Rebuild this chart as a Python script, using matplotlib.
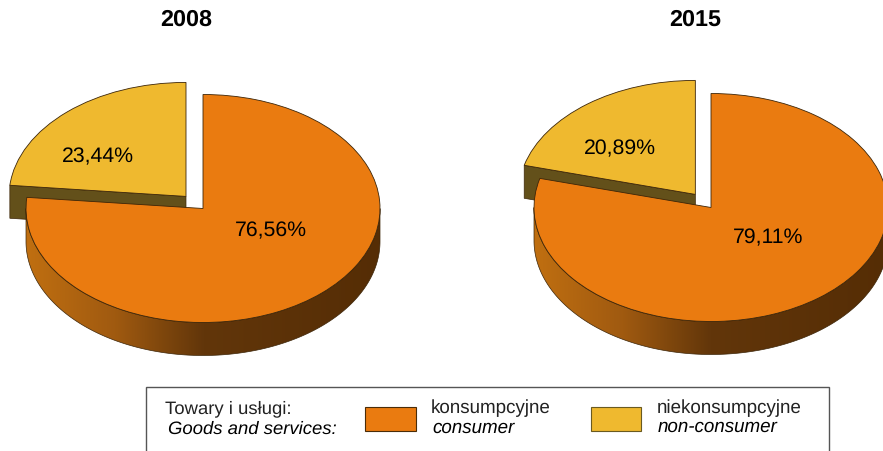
import numpy as np
import matplotlib
matplotlib.use('Agg')
import matplotlib.pyplot as plt
from matplotlib.colors import LinearSegmentedColormap
from matplotlib.patches import Polygon, Rectangle

plt.rcParams['font.family'] = ['Liberation Sans', 'DejaVu Sans']
plt.rcParams['text.hinting'] = 'no_hinting'

# data
years = ['2008', '2015']
consumer = [76.56, 79.11]
non_consumer = [23.44, 20.89]
value_labels = [['76,56%', '23,44%'], ['79,11%', '20,89%']]
legend_title = ['Towary i usługi:', 'Goods and services:']
legend_pl = ['konsumpcyjne', 'niekonsumpcyjne']
legend_en = ['consumer', 'non-consumer']

ORANGE = '#ea7b10'
YELLOW = '#efb92f'
CUT = '#63501a'
EDGE = '#3c2508'
W, H = 883, 452
RX, RY, DEPTH = 177, 114, 33     # pixels

side_cmap = LinearSegmentedColormap.from_list('side', [
    (0.0, '#c06f10'), (0.25, '#a05a10'), (0.5, '#62360a'), (1.0, '#552d05')])


def draw_pie(box, center, values, explode, labels, label_pos):
    # box = left, top, right, bottom of the axes in pixels
    left, top, right, bottom = box
    ax = fig.add_axes([left / W, 1 - bottom / H, (right - left) / W, (bottom - top) / H])
    wedges, _ = ax.pie(values, colors=[ORANGE, YELLOW], startangle=90, counterclock=False,
                       explode=[0, explode], radius=1,
                       wedgeprops={'edgecolor': EDGE, 'linewidth': 0.6})
    ax.set_aspect('auto')
    d = DEPTH / RY

    # cut face of the pulled out slice
    big, small = wedges
    cx, cy = small.center
    a = np.radians(big.theta1)
    rim = (cx + np.cos(a), cy + np.sin(a))
    ax.add_patch(Polygon([(cx, cy), rim, (rim[0], rim[1] - d), (cx, cy - d)],
                         facecolor=CUT, edgecolor=EDGE, linewidth=0.5, zorder=0.5))
    small.set_zorder(1)

    # wall of the big slice, shaded from left to right
    t = np.radians(np.linspace(-180, 0, 200))
    xs, ys = np.cos(t), np.sin(t)
    wall = Polygon(np.r_[np.c_[xs, ys], np.c_[xs[::-1], ys[::-1] - d]],
                   facecolor='none', edgecolor=EDGE, linewidth=0.5, zorder=2.5)
    ax.add_patch(wall)
    img = ax.imshow(np.linspace(0, 1, 256).reshape(1, -1), cmap=side_cmap, aspect='auto',
                    extent=(-1, 1, -1 - d, 0), zorder=2)
    img.set_clip_path(wall)
    big.set_zorder(3)
    ax.set_xlim((left - center[0]) / RX, (right - center[0]) / RX)
    ax.set_ylim((center[1] - bottom) / RY, (center[1] - top) / RY)

    for txt, (px, py) in zip(labels, label_pos):
        over.text(px, py, txt, fontsize=15.3, ha='center', va='center', color='black')


fig = plt.figure(figsize=(W / 100, H / 100), dpi=100, facecolor='white')

# overlay in pixel units for titles and legend
over = fig.add_axes([0, 0, 1, 1], zorder=5)
over.set_xlim(0, W)
over.set_ylim(H, 0)
over.axis('off')

draw_pie((0, 60, 445, 375), (203, 209.5), [consumer[0], non_consumer[0]], 0.143,
         value_labels[0], [(270.5, 230.5), (98, 156.5)])
draw_pie((450, 60, 883, 375), (711, 208.5), [consumer[1], non_consumer[1]], 0.145,
         value_labels[1], [(768, 237.5), (620, 148.5)])

over.text(186, 20, years[0], fontsize=16.8, fontweight='bold', ha='center', va='center')
over.text(695, 20, years[1], fontsize=16.8, fontweight='bold', ha='center', va='center')

# legend box runs past the bottom of the picture
over.add_patch(Rectangle((146, 388), 683, 80, facecolor='white', edgecolor='#555555', linewidth=1))
over.text(165, 409, legend_title[0], fontsize=13.3, ha='left', va='center', color='#222222')
over.text(168, 429, legend_title[1], fontsize=13.3, style='italic', ha='left', va='center')
over.add_patch(Rectangle((365, 408), 51, 24, facecolor=ORANGE, edgecolor='#4a2c08', linewidth=0.8))
over.add_patch(Rectangle((591, 408), 50, 24, facecolor=YELLOW, edgecolor='#6a5a20', linewidth=0.8))
over.text(431, 408, legend_pl[0], fontsize=13.5, ha='left', va='center', color='#222222')
over.text(432, 428, legend_en[0], fontsize=13.5, style='italic', ha='left', va='center')
over.text(657, 408, legend_pl[1], fontsize=13.5, ha='left', va='center', color='#222222')
over.text(658, 427, legend_en[1], fontsize=13.5, style='italic', ha='left', va='center')

fig.savefig('out.png', dpi=100)
